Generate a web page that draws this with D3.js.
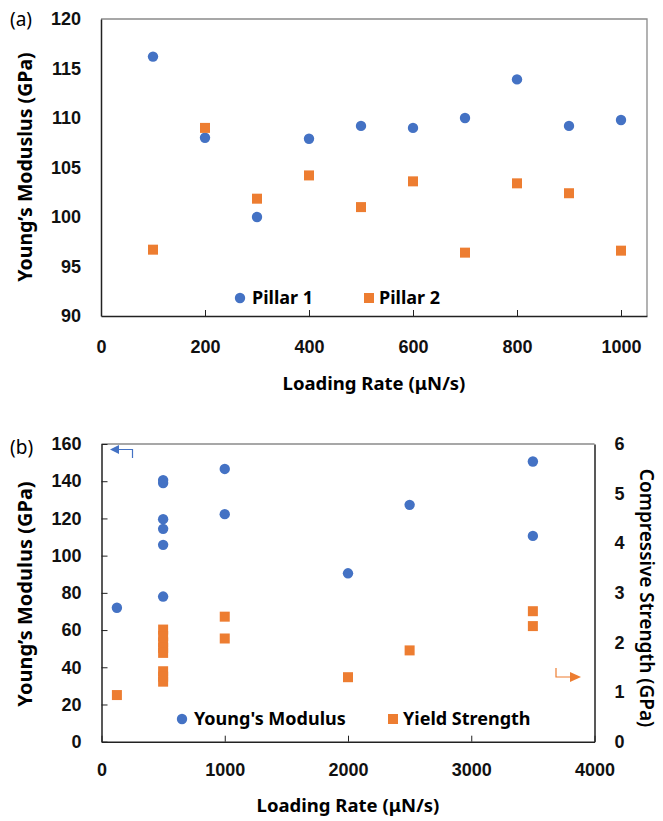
<!DOCTYPE html>
<html>
<head>
<meta charset="UTF-8" />
<script src="https://cdn.jsdelivr.net/npm/d3@7"></script>
<style>
  body { margin: 0; background: #fff; }
  svg { display: block; font-family: "Noto Sans", sans-serif; }
  .tick text { font-size: 18px; font-weight: bold; fill: #111; }
  .axis path, .axis line { stroke: #222; }
</style>
</head>
<body>
<svg width="663" height="821"></svg>
<script>
// (a) loading rate vs modulus, two pillars
const rateA = [100, 200, 300, 400, 500, 600, 700, 800, 900, 1000];
const pillar1 = [116.2, 108.0, 100.0, 107.9, 109.2, 109.0, 110.0, 113.9, 109.2, 109.8];
const pillar2 = [96.7, 109.0, 101.85, 104.2, 101.0, 103.6, 96.4, 103.4, 102.4, 96.6];
const xTicksA = [0, 200, 400, 600, 800, 1000];
const yTicksA = [90, 95, 100, 105, 110, 115, 120];

// (b) modulus and yield strength vs loading rate
const rateYM = [125, 500, 500, 500, 500, 500, 500, 1000, 1000, 2000, 2500, 3500, 3500];
const youngs = [72.0, 140.6, 139.0, 119.6, 114.4, 105.8, 78.0, 146.6, 122.3, 90.5, 127.3, 150.6, 110.6];
const rateYS = [125, 500, 500, 500, 500, 500, 500, 500, 500, 1000, 1000, 2000, 2500, 3500, 3500];
const yieldS = [0.94, 2.26, 2.13, 2.0, 1.89, 1.79, 1.42, 1.31, 1.21, 2.52, 2.08, 1.3, 1.84, 2.63, 2.33];
const xTicksB = [0, 1000, 2000, 3000, 4000];
const yTicksB = [0, 20, 40, 60, 80, 100, 120, 140, 160];
const yTicksB2 = [0, 1, 2, 3, 4, 5, 6];

const blue = '#4472C4';
const orange = '#ED7D31';
const fmt = d3.format('d');
const svg = d3.select('svg');

function dots(g, xs, ys, x, y) {
  g.selectAll(null).data(xs).enter().append('circle')
    .attr('cx', (d) => x(d)).attr('cy', (d, i) => y(ys[i]))
    .attr('r', 5.2).attr('fill', blue);
}
function squares(g, xs, ys, x, y) {
  g.selectAll(null).data(xs).enter().append('rect')
    .attr('x', (d) => x(d) - 5).attr('y', (d, i) => y(ys[i]) - 5)
    .attr('width', 10).attr('height', 10).attr('fill', orange);
}
function frame(x0, x1, y0, y1) {
  svg.append('path')
    .attr('d', `M${x0},${y0}H${x1}V${y1}`)
    .attr('fill', 'none').attr('stroke', '#8a8a8a').attr('stroke-width', 1.3);
}

// ---------- chart (a)
const xA = d3.scaleLinear().domain([0, 1050]).range([101, 647]);
const yA = d3.scaleLinear().domain([90, 120]).range([316, 19]);
frame(101, 647, 19, 316);

svg.append('g').attr('class', 'axis').attr('transform', 'translate(0,316)')
  .call(d3.axisBottom(xA).tickValues(xTicksA).tickFormat(fmt)
    .tickSizeInner(-6).tickSizeOuter(0).tickPadding(24))
  .call((g) => g.select('.domain').attr('stroke-width', 1.5));
svg.append('g').attr('class', 'axis').attr('transform', 'translate(101,0)')
  .call(d3.axisLeft(yA).tickValues(yTicksA).tickFormat(fmt).tickSize(0).tickPadding(20))
  .call((g) => g.select('.domain').attr('stroke-width', 1.5));

const gA = svg.append('g');
dots(gA, rateA, pillar1, xA, yA);
squares(gA, rateA, pillar2, xA, yA);

// legend (a)
svg.append('circle').attr('cx', 240).attr('cy', 298).attr('r', 5.2).attr('fill', blue);
svg.append('text').attr('x', 252).attr('y', 298).attr('dy', '0.35em')
  .attr('font-size', 18).attr('font-weight', 'bold').text('Pillar 1');
svg.append('rect').attr('x', 364).attr('y', 293).attr('width', 10).attr('height', 10).attr('fill', orange);
svg.append('text').attr('x', 379).attr('y', 298).attr('dy', '0.35em')
  .attr('font-size', 18).attr('font-weight', 'bold').text('Pillar 2');

svg.append('text').attr('x', 10).attr('y', 19).attr('dy', '0.35em')
  .attr('font-size', 19).text('(a)');
svg.append('text').attr('x', 374).attr('y', 384).attr('dy', '0.35em')
  .attr('text-anchor', 'middle').attr('font-size', 18.5).attr('font-weight', 'bold')
  .text('Loading Rate (μN/s)');
svg.append('text').attr('transform', 'translate(25,167) rotate(-90)').attr('dy', '0.35em')
  .attr('text-anchor', 'middle').attr('font-size', 19.5).attr('font-weight', 'bold')
  .text('Young\u2019s Moduslus (GPa)');

// ---------- chart (b)
const xB = d3.scaleLinear().domain([0, 4000]).range([101.5, 594.5]);
const yB = d3.scaleLinear().domain([0, 160]).range([741.7, 444]);
const yB2 = d3.scaleLinear().domain([0, 6]).range([741.7, 444]);
svg.append('path').attr('d', 'M101.5,444H594.5').attr('stroke', '#8a8a8a')
  .attr('stroke-width', 1.3);

svg.append('g').attr('class', 'axis').attr('transform', 'translate(0,741.7)')
  .call(d3.axisBottom(xB).tickValues(xTicksB).tickFormat(fmt)
    .tickSizeInner(-6).tickSizeOuter(0).tickPadding(22))
  .call((g) => g.select('.domain').attr('stroke-width', 1.5));
svg.append('g').attr('class', 'axis').attr('transform', 'translate(101.5,0)')
  .call(d3.axisLeft(yB).tickValues(yTicksB).tickFormat(fmt)
    .tickSizeInner(-6).tickSizeOuter(0).tickPadding(20))
  .call((g) => g.select('.domain').attr('stroke-width', 1.5));
svg.append('g').attr('class', 'axis').attr('transform', 'translate(594.5,0)')
  .call(d3.axisRight(yB2).tickValues(yTicksB2).tickFormat(fmt).tickSize(0).tickPadding(20))
  .call((g) => g.select('.domain').attr('stroke-width', 1.5));

const gB = svg.append('g');
dots(gB, rateYM, youngs, xB, yB);
squares(gB, rateYS, yieldS, xB, yB2);

// legend (b)
svg.append('circle').attr('cx', 182).attr('cy', 719).attr('r', 5.2).attr('fill', blue);
svg.append('text').attr('x', 194).attr('y', 719).attr('dy', '0.35em')
  .attr('font-size', 18).attr('font-weight', 'bold').text('Young\'s Modulus');
svg.append('rect').attr('x', 388).attr('y', 714).attr('width', 10).attr('height', 10).attr('fill', orange);
svg.append('text').attr('x', 403).attr('y', 719).attr('dy', '0.35em')
  .attr('font-size', 18).attr('font-weight', 'bold').text('Yield Strength');

// axis pointers
svg.append('path').attr('d', 'M118,449.5H132.5V458').attr('fill', 'none')
  .attr('stroke', blue).attr('stroke-width', 1.2);
svg.append('path').attr('d', 'M110,449.5L119,445V454Z').attr('fill', blue);
svg.append('path').attr('d', 'M556,668V677H571').attr('fill', 'none')
  .attr('stroke', orange).attr('stroke-width', 1.2);
svg.append('path').attr('d', 'M581,677L570,672V682Z').attr('fill', orange);

svg.append('text').attr('x', 10).attr('y', 447).attr('dy', '0.35em')
  .attr('font-size', 19).text('(b)');
svg.append('text').attr('x', 348).attr('y', 806).attr('dy', '0.35em')
  .attr('text-anchor', 'middle').attr('font-size', 18.5).attr('font-weight', 'bold')
  .text('Loading Rate (μN/s)');
svg.append('text').attr('transform', 'translate(25,594) rotate(-90)').attr('dy', '0.35em')
  .attr('text-anchor', 'middle').attr('font-size', 20).attr('font-weight', 'bold')
  .text('Young\u2019s Modulus (GPa)');
svg.append('text').attr('transform', 'translate(647,598) rotate(90)').attr('dy', '0.35em')
  .attr('text-anchor', 'middle').attr('font-size', 19).attr('font-weight', 600)
  .text('Compressive Strength (GPa)');
</script>
</body>
</html>
